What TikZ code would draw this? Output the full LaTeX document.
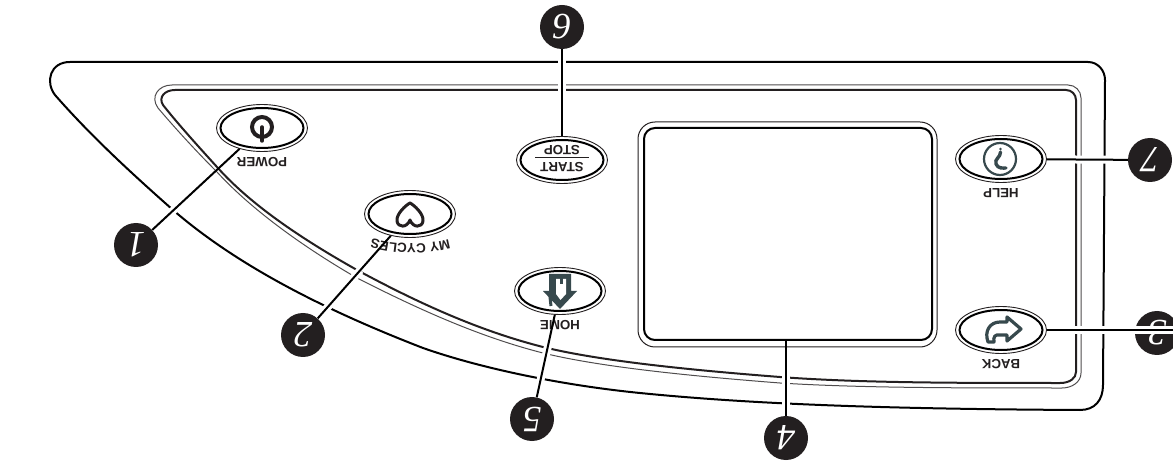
\documentclass[tikz,border=0pt]{standalone}
\usepackage{fontspec}
\setmainfont{Liberation Sans}
\newfontfamily\numfont{Liberation Serif}
\usetikzlibrary{shapes.geometric,decorations.text}
\definecolor{ink}{HTML}{231F20}
\definecolor{teal}{HTML}{37494D}
\tikzset{
  outline/.style={draw=black,line width=2pt},
  thickl/.style={draw=ink,line width=2pt},
  thinl/.style={draw=ink!80,line width=1pt},
  btnout/.style={ellipse,draw=ink,line width=.9pt,minimum width=91pt,minimum height=47pt,inner sep=0pt},
  btnin/.style={ellipse,draw=black,line width=2pt,minimum width=83pt,minimum height=40pt,inner sep=0pt},
  callout/.style={circle,fill=ink,minimum size=44pt,inner sep=0pt,text=white,font=\numfont\itshape\fontsize{37}{37}\selectfont,rotate=180},
  lbl/.style={font=\bfseries\fontsize{13.3}{13.3}\selectfont,text=ink,rotate=180,inner sep=0pt},
  conn/.style={draw=black,line width=2pt},
  halo/.style={draw=white,line width=8pt},
  icon/.style={draw=teal,line width=3.2pt,line join=round},
}
\begin{document}
\begin{tikzpicture}[x=1pt,y=-1pt]
\useasboundingbox (0,0) rectangle (1173,462);
% outer body
\draw[outline] (70,62) -- (1088,62) to[out=0,in=90] (1105,80) -- (1103,385)
  .. controls (1103,400) and (1095,410) .. (1080,410)
  .. controls (900,409) and (760,405) .. (640,393)
  .. controls (560,385) and (480,368) .. (423,348)
  .. controls (330,312) and (240,268) .. (173,210)
  .. controls (130,172) and (90,135) .. (55,95)
  .. controls (45,82) and (50,62) .. (70,62) -- cycle;
% panel, thin line
\draw[thinl] (172,85) -- (1068,85) to[out=0,in=90] (1081,98) -- (1081,373)
  .. controls (1081,382) and (1072,388) .. (1062,388)
  .. controls (960,388) and (860,388) .. (780,383)
  .. controls (690,376) and (600,367) .. (543,353)
  .. controls (480,337) and (420,310) .. (357,278)
  .. controls (300,245) and (250,208) .. (217,172)
  .. controls (195,150) and (175,128) .. (158,108)
  .. controls (150,97) and (158,85) .. (172,85) -- cycle;
% panel, thick line
\draw[thickl] (175,90) -- (1066,90) to[out=0,in=90] (1076,100) -- (1076,372)
  .. controls (1076,378) and (1070,383) .. (1060,383)
  .. controls (960,383) and (860,383) .. (780,377)
  .. controls (690,370) and (600,361) .. (543,347)
  .. controls (480,331) and (420,304) .. (357,270)
  .. controls (300,238) and (250,204) .. (217,167)
  .. controls (197,145) and (178,124) .. (163,105)
  .. controls (158,97) and (165,90) .. (175,90) -- cycle;
% screen
\node[draw=ink,line width=1pt,rounded corners=17pt,minimum width=299pt,minimum height=225pt,inner sep=0pt] (scro) at (787.5,234.5) {};
\node[draw=black,line width=2pt,rounded corners=11pt,minimum width=288pt,minimum height=212pt,inner sep=0pt] (scr) at (788,234) {};
% button placement
\coordinate (p1) at (262,128);
\coordinate (p2) at (410,214);
\coordinate (p3) at (1001,330);
\coordinate (p5) at (560,291);
\coordinate (p6) at (562,160);
\coordinate (p7) at (1001,159);
% callouts
\node[callout] (c1) at (136,245) {1};
\node[callout] (c2) at (303,335) {2};
\node[callout] (c3) at (1157,333) {3};
\node[callout] (c4) at (786,438) {4};
\node[callout] (c5) at (532,419) {5};
\node[callout] (c6) at (562,27) {6};
\node[callout] (c7) at (1150,160) {7};
% buttons
\node[btnout] (e1) at (p1) {};
\node[btnout] (e2) at (p2) {};
\node[btnout] (e3) at (p3) {};
\node[btnout] (e5) at (p5) {};
\node[btnout] (e6) at (p6) {};
\node[btnout] (e7) at (p7) {};
% halos that break the body lines
\draw[halo,shorten >=46pt] (c1) -- (e1);
\draw[halo,shorten >=46pt] (c2) -- (e2);
\draw[halo,shorten <=24pt] (e3.east) -- (e3.east -| c3.west);
\draw[halo,shorten >=22pt] (c4) -- (c4 |- scro.south);
\draw[halo,shorten >=12pt] (c5) -- (e5);
\draw[halo,shorten >=18pt] (c6) -- (e6);
\draw[halo,shorten <=24pt] (e7) -- (c7);
\foreach \n in {1,2,3,5,6,7}{\node[btnin] (i\n) at (p\n) {};}
% labels
\node[lbl] (l1) at (262,162) {POWER};
\path[decorate,decoration={text along path,text={|\bfseries\fontsize{13.3}{13.3}\selectfont\color{ink}|MY CYCLES},text align=center}]
  (455,237) .. controls (430,246) and (392,246) .. (366,236);
\node[lbl] (l3) at (1001,364) {BACK};
\node[lbl] (l5) at (560,325) {HOME};
\node[lbl] (l7) at (1001,193) {HELP};
\node[lbl] (l6a) at (562,167) {START};
\node[lbl] (l6b) at (562,150) {STOP};
\draw[draw=ink,line width=1pt] (535,158) -- (589,158);
% connectors
\draw[conn] (c1) -- (e1);
\draw[conn] (c2) -- (e2);
\draw[conn] (e3.east) -- (e3.east -| c3.west);
\draw[conn] (c4) -- (c4 |- scr.south);
\draw[conn] (c5) -- (e5);
\draw[conn] (c6) -- (e6);
\draw[conn] (e7) -- (c7);
% power icon
\draw[draw=ink,line width=4pt] (262,127) circle[radius=10];
\draw[draw=ink,line width=3.5pt,line cap=round] (262,127) -- (262,141);
% heart icon
\draw[draw=ink,line width=3pt,line join=round] (410,203)
  .. controls (414,205) and (424,214) .. (423,221)
  .. controls (422,228) and (413,228) .. (410,220)
  .. controls (407,228) and (398,228) .. (397,221)
  .. controls (396,214) and (406,205) .. (410,203) -- cycle;
% home icon
\fill[teal] (549,274) -- (571,274) -- (571,291) -- (577,291) -- (560,309) -- (543,291) -- (549,291) -- cycle;
\fill[white] (556,279) -- (566,279) -- (566,294) -- (560.5,300) -- (556,294) -- cycle;
\fill[teal] (559.5,274) rectangle (562.5,284);
\draw[icon,line width=3pt] (550,297) -- (551,306);
% help icon
\draw[icon,line width=2.2pt] (1000,159) circle[radius=16];
\fill[teal] (1000.5,149) circle[radius=1.4];
\draw[icon,line width=3.4pt,line cap=round] (1000.5,152) .. controls (1001,157) and (994,159) .. (996,164) .. controls (998,169) and (1003,168) .. (1006,168);
% back icon
\draw[icon] (1007,317) -- (1021,329) -- (1007,341) -- (1007,335) -- (1000,335)
  .. controls (995,334) and (993,337) .. (994,342) -- (988,342)
  .. controls (984,331) and (990,322) .. (1000,322) -- (1007,322) -- cycle;
\end{tikzpicture}
\end{document}
